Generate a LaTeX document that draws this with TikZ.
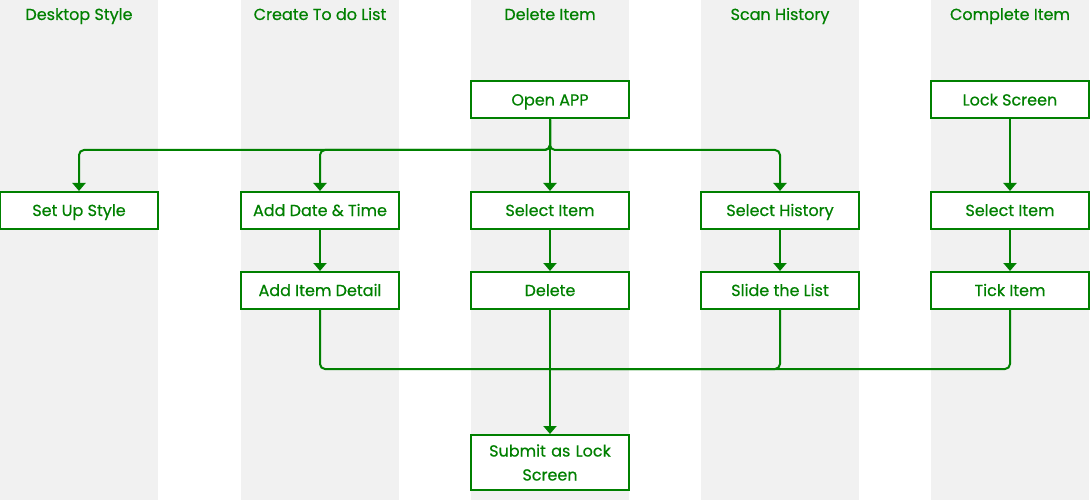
\documentclass[tikz,border=0pt]{standalone}
\usepackage{fontspec}
\setmainfont{Poppins}[FakeBold=0.5]
\usetikzlibrary{arrows.meta}
\definecolor{gr}{HTML}{008000}
\definecolor{band}{HTML}{F1F1F1}
\tikzset{
  box/.style={draw=gr, line width=2pt, fill=white, minimum width=158pt, minimum height=37pt, inner sep=0pt, text=gr, font=\fontsize{16}{20}\selectfont, align=center, text height=14pt, text depth=3pt},
  head/.style={text=gr, font=\fontsize{16}{20}\selectfont, text height=13pt, text depth=3pt},
  conn/.style={draw=gr, line width=2pt, rounded corners=5pt, -{Triangle[width=13pt,length=8pt]}},
  plain/.style={draw=gr, line width=2pt, rounded corners=5pt}
}
\begin{document}
\begin{tikzpicture}[x=1pt,y=-1pt]
\useasboundingbox (0,0) rectangle (1090,500);
\foreach \a in {0,241,471,701,931}{\fill[band] (\a,0) rectangle (\a+158,500);}
\node[head] (h1) at (79,15) {Desktop Style};
\node[head] (h2) at (320,15) {Create To do List};
\node[head] (h3) at (550,15) {Delete Item};
\node[head] (h4) at (780,15) {Scan History};
\node[head] (h5) at (1010,15) {Complete Item};

\node[box] (open) at (550,100) {Open APP};
\node[box] (lock) at (1010,100) {Lock Screen};
\node[box] (style) at (79,210.5) {Set Up Style};
\node[box] (date) at (320,210.5) {Add Date \& Time};
\node[box] (sel) at (550,210.5) {Select Item};
\node[box] (hist) at (780,210.5) {Select History};
\node[box] (sel2) at (1010,210.5) {Select Item};
\node[box] (detail) at (320,290.5) {Add Item Detail};
\node[box] (del) at (550,290.5) {Delete};
\node[box] (slide) at (780,290.5) {Slide the List};
\node[box] (tick) at (1010,290.5) {Tick Item};
\node[box, minimum height=55pt, text width=150pt, text height=, text depth=, font=\fontsize{16}{24}\selectfont] (sub) at (550,462.5) {Submit as Lock\\Screen};

\coordinate (t) at (550,150);
\coordinate (b) at (550,369);
\draw[conn] (open.south) -- (t) -| (style.north);
\draw[conn] (open.south) -- (t) -| (date.north);
\draw[conn] (open.south) -- (sel.north);
\draw[conn] (open.south) -- (t) -| (hist.north);
\draw[conn] (lock) -- (sel2);
\draw[conn] (sel2) -- (tick);
\draw[conn] (date) -- (detail);
\draw[conn] (sel) -- (del);
\draw[conn] (hist) -- (slide);
\draw[plain] (detail.south) |- (b);
\draw[plain] (slide.south) |- (b);
\draw[plain] (tick.south) |- (b);
\draw[conn] (del.south) -- (sub.north);
\end{tikzpicture}
\end{document}
